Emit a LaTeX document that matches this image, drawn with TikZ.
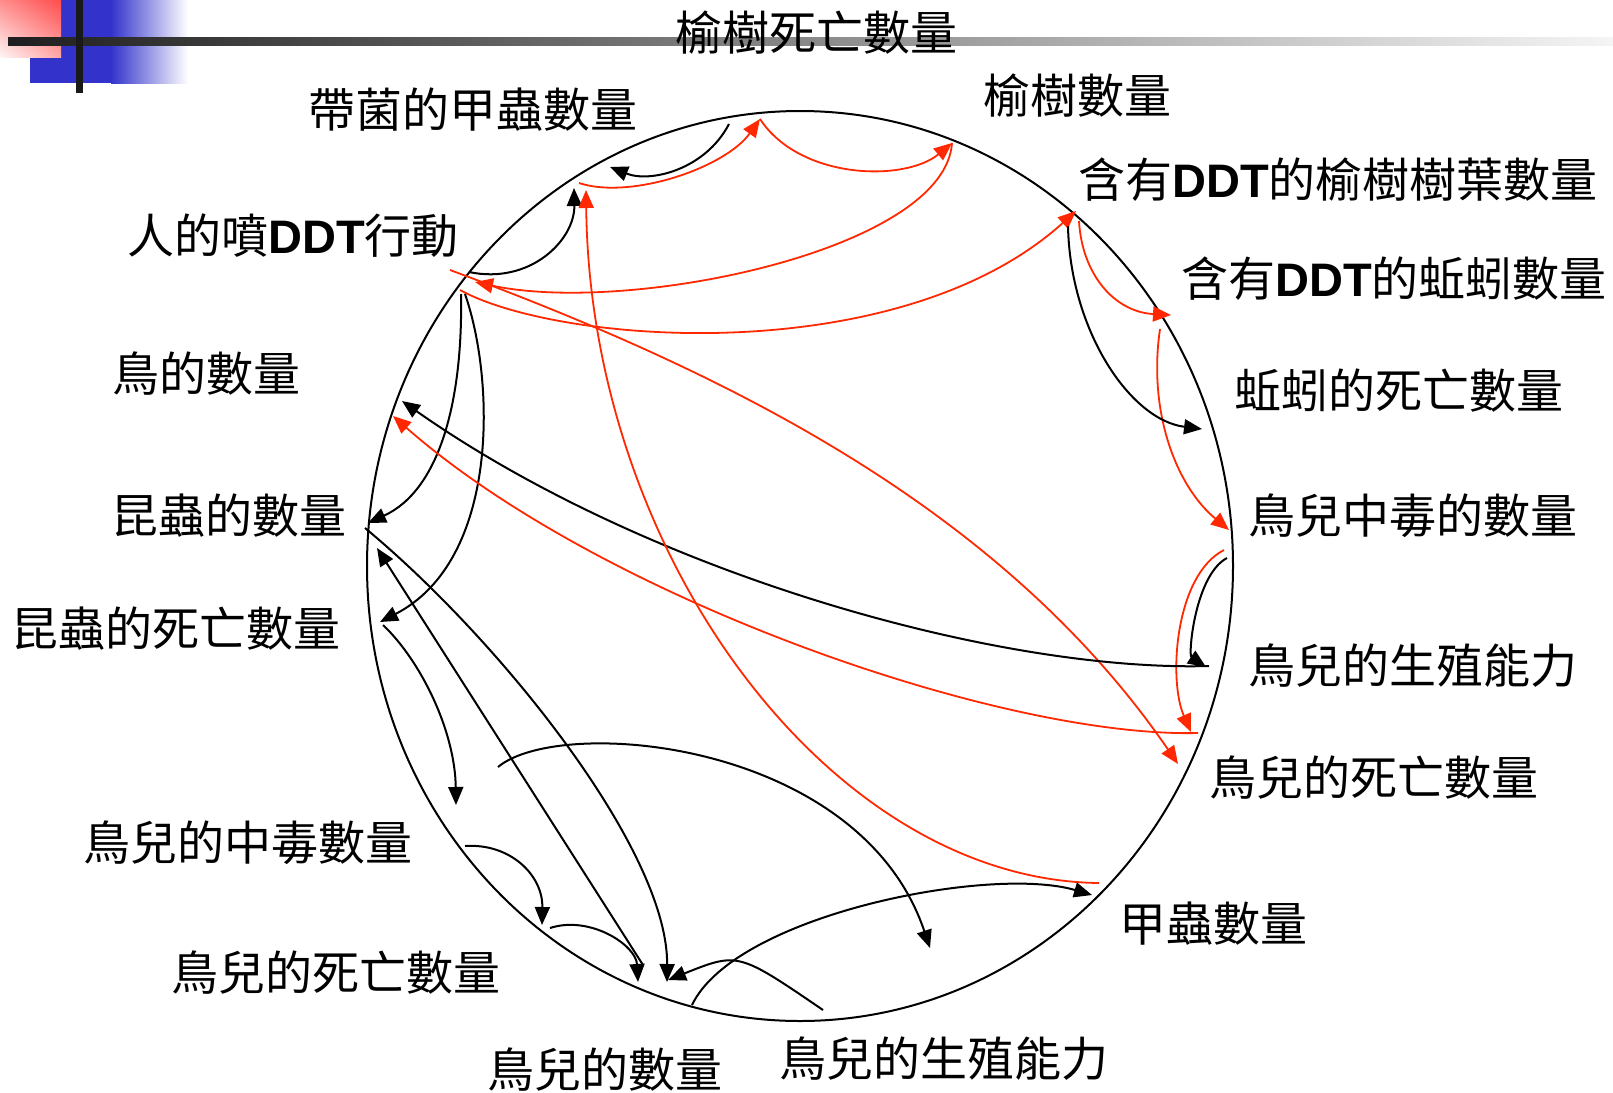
\documentclass[tikz,border=0pt]{standalone}
\usepackage{fontspec}
\usetikzlibrary{arrows.meta,shadings}
\newfontfamily\cjk{Noto Sans CJK TC}
\newfontfamily\latin{Liberation Sans}
\definecolor{arrowred}{RGB}{255,40,0}
\definecolor{slideblue}{RGB}{51,51,204}
\newcommand{\ddt}{{\latin\bfseries DDT}}

\tikzset{
  lbl/.style={font=\cjk\fontsize{47}{50}\selectfont, inner sep=0pt},
  link/.style={line width=2pt, -{Triangle[length=18pt,width=15pt]}},
  redlink/.style={link, line width=1.8pt, color=arrowred},
}

\begin{document}
\begin{tikzpicture}[x=1pt,y=-1pt]
  \useasboundingbox (0,0) rectangle (1613,1092);
  \fill[white] (0,0) rectangle (1613,1092);

  % slide corner
  \fill[slideblue] (30,0) rectangle (112,83);
  \shade[left color=slideblue, right color=white] (111,0) rectangle (188,83);
  \shade[upper left=red!45, upper right=red!70, lower left=red!4, lower right=red!35] (0,0) rectangle (61,57);
  \shade[left color=black!88, right color=black!4] (8,37) rectangle (1613,45);
  \fill[black!90] (76,0) rectangle (83,93);

  % the loop
  \draw[line width=2pt] (800,566) ellipse [x radius=433, y radius=455];

  % end points on the loop
  \foreach \n/\x/\y in {elmDeadA/729/124, beetleA/610/167, beetleR/579/183, elmDeadR/760/119,
      elmCount/952/143, sprayR3/475/282, sprayR4/460/290, leafDDT/1076/211,
      sprayR5/450/270, birdDeadR/1178/764, sprayB/469/272, beetleB/574/188,
      sprayC/461/294, sprayC2/465/294, insect/368/523, insectDead/380/622,
      leafR6/1079/221, wormDDT/1171/315, wormR7/1160/329, poisonR/1229/530,
      leafO/1068/226, wormDead/1202/429, poisonR8/1224/550, birdDeadR8/1191/732,
      poisonF/1227/558, breedR/1206/667, breedE/1209/666, birdE/402/401,
      birdDeadR9/1198/733, birdR9/393/416, beetleCount/1099/883, beetleR10/586/190,
      insectG/365/528, birdsG/667/982, birdsH/643/965, insectH/377/548,
      insectDeadI/383/625, poisonI/456/805, poisonJ/465/846, deadJ/542/925,
      deadK/550/928, birdsK/638/982, breedL/823/1010, birdsL/668/980,
      birdsM/692/1005, beetleM/1092/895, poisonN/498/767, breedN/930/948}
    \coordinate (\n) at (\x,\y);

  % top
  \draw[link] (elmDeadA) .. controls (705,170) and (650,183) .. (beetleA);
  \draw[redlink] (beetleR) .. controls (630,200) and (725,168) .. (elmDeadR);
  \draw[redlink] (elmDeadR) .. controls (800,180) and (905,182) .. (elmCount);
  \draw[redlink] (elmCount) .. controls (945,250) and (630,315) .. (sprayR3);
  \draw[redlink] (sprayR4) .. controls (560,345) and (900,370) .. (leafDDT);
  \draw[redlink] (sprayR5) .. controls (720,370) and (1000,505) .. (birdDeadR);
  \draw[link] (sprayB) .. controls (530,285) and (575,240) .. (beetleB);
  \draw[link] (sprayC) .. controls (463,400) and (440,490) .. (insect);
  \draw[link] (sprayC2) .. controls (495,380) and (500,560) .. (insectDead);

  % right side
  \draw[redlink] (leafR6) .. controls (1082,275) and (1115,312) .. (wormDDT);
  \draw[redlink] (wormR7) .. controls (1148,410) and (1175,485) .. (poisonR);
  \draw[link] (leafO) .. controls (1070,330) and (1130,420) .. (wormDead);
  \draw[redlink] (poisonR8) .. controls (1175,575) and (1168,680) .. (birdDeadR8);
  \draw[link] (poisonF) .. controls (1195,575) and (1188,655) .. (breedR);
  \draw[link] (breedE) .. controls (1000,672) and (650,575) .. (birdE);
  \draw[redlink] (birdDeadR9) .. controls (1000,738) and (600,598) .. (birdR9);
  \draw[redlink] (beetleCount) .. controls (830,880) and (590,555) .. (beetleR10);

  % bottom
  \draw[link] (insectG) .. controls (500,640) and (668,850) .. (birdsG);
  \draw[link] (birdsH) -- (insectH);
  \draw[link] (insectDeadI) .. controls (420,660) and (455,730) .. (poisonI);
  \draw[link] (poisonJ) .. controls (510,843) and (543,875) .. (deadJ);
  \draw[link] (deadK) .. controls (590,915) and (636,945) .. (birdsK);
  \draw[link] (breedL) .. controls (738,952) .. (birdsL);
  \draw[link] (birdsM) .. controls (735,915) and (990,865) .. (beetleM);
  \draw[link] (poisonN) .. controls (560,715) and (860,740) .. (breedN);

  % labels
  \foreach \n/\x/\y/\t in {lElmDead/816/33/{榆樹死亡數量}, lElm/1077/96/{榆樹數量},
      lBeetleF/473/110/{帶菌的甲蟲數量}, lLeaf/1338/180/{含有\ddt 的榆樹樹葉數量},
      lSpray/293/236/{人的噴\ddt 行動}, lWormDDT/1394/279/{含有\ddt 的蚯蚓數量},
      lBird/206/374/{鳥的數量}, lWormDead/1399/391/{蚯蚓的死亡數量},
      lInsect/229/516/{昆蟲的數量}, lPoisonR/1413/516/{鳥兒中毒的數量},
      lInsectDead/176/629/{昆蟲的死亡數量}, lBreedR/1413/666/{鳥兒的生殖能力},
      lDeadR/1374/778/{鳥兒的死亡數量}, lPoisonL/248/843/{鳥兒的中毒數量},
      lBeetle/1213/924/{甲蟲數量}, lDeadL/336/973/{鳥兒的死亡數量},
      lBirds/605/1070/{鳥兒的數量}, lBreedB/944/1059/{鳥兒的生殖能力}}
    \node[lbl] (\n) at (\x,\y) {\t};
\end{tikzpicture}
\end{document}
